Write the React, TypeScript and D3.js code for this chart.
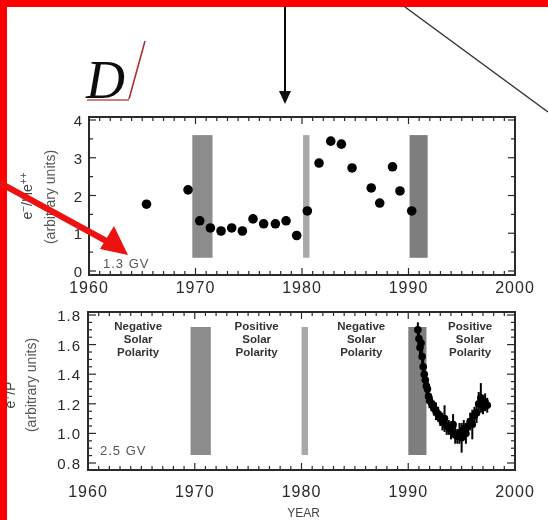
import React from 'react';
import * as d3 from 'd3';

// top panel: e-/He++ ratio, 1.3 GV
const topYears = [1965.4, 1969.3, 1970.4, 1971.4, 1972.4, 1973.4, 1974.4, 1975.4, 1976.4, 1977.5, 1978.5, 1979.5, 1980.5, 1981.6, 1982.7, 1983.7, 1984.7, 1986.5, 1987.3, 1988.5, 1989.2, 1990.3];
const topValues = [1.77, 2.15, 1.33, 1.14, 1.06, 1.14, 1.06, 1.38, 1.25, 1.25, 1.33, 0.94, 1.59, 2.86, 3.44, 3.36, 2.73, 2.2, 1.8, 2.76, 2.12, 1.59];

// bottom panel: e+/P ratio, 2.5 GV
const botYears = [1990.9, 1991.0, 1991.1, 1991.2, 1991.3, 1991.4, 1991.5, 1991.6, 1991.7, 1991.8, 1991.9, 1992.0, 1992.2, 1992.4, 1992.6, 1992.8, 1993.0, 1993.2, 1993.4, 1993.6, 1993.8, 1994.0, 1994.2, 1994.4, 1994.6, 1994.8, 1995.0, 1995.2, 1995.4, 1995.6, 1995.8, 1996.0, 1996.2, 1996.4, 1996.6, 1996.8, 1997.0, 1997.2, 1997.4];
const botValues = [1.7, 1.64, 1.58, 1.61, 1.52, 1.45, 1.4, 1.36, 1.32, 1.3, 1.25, 1.22, 1.2, 1.17, 1.15, 1.13, 1.1, 1.08, 1.1, 1.05, 1.04, 1.02, 1.06, 0.99, 0.98, 1.0, 0.97, 1.03, 1.0, 1.05, 1.08, 1.06, 1.12, 1.14, 1.2, 1.24, 1.18, 1.21, 1.19];
const botErrors = [0.05, 0.05, 0.05, 0.05, 0.05, 0.05, 0.05, 0.05, 0.05, 0.05, 0.05, 0.05, 0.05, 0.05, 0.06, 0.05, 0.05, 0.06, 0.09, 0.06, 0.05, 0.06, 0.07, 0.06, 0.05, 0.07, 0.1, 0.06, 0.07, 0.05, 0.06, 0.1, 0.06, 0.07, 0.08, 0.1, 0.05, 0.06, 0.05];

// solar max periods (shaded)
const bandStart = [1969.7, 1980.1, 1990.1];
const bandEnd = [1971.6, 1980.7, 1991.8];
const bandShade = ['#8c8c8c', '#a8a8a8', '#7e7e7e'];

const xTicks = [1960, 1970, 1980, 1990, 2000];
const topYTicks = [0, 1, 2, 3, 4];
const botYTicks = [0.8, 1.0, 1.2, 1.4, 1.6, 1.8];
const polarityLabels = ['Negative', 'Positive', 'Negative', 'Positive'];
const polarityYears = [1964.7, 1975.8, 1985.6, 1995.8];

const ink = '#2a2a2a';
const font = 'Liberation Sans, Arial, sans-serif';

export default function App() {
  const W = 548;
  const H = 520;

  const xTop = d3.scaleLinear().domain([1960, 2000]).range([89, 515]);
  const yTop = d3.scaleLinear().domain([0, 4]).range([271, 120]);
  const xBot = d3.scaleLinear().domain([1960, 2000]).range([88, 515]);
  const yBot = d3.scaleLinear().domain([0.8, 1.8]).range([463, 315]);

  const years = d3.range(1960, 2001);

  const frame = (x0: number, x1: number, y0: number, y1: number) => (
    <rect x={x0} y={y0} width={x1 - x0} height={y1 - y0} fill="none" stroke={ink} strokeWidth={2} />
  );

  return (
    <svg width={W} height={H} style={{ position: 'absolute', left: 0, top: 0, background: '#fff' }}>
      <defs>
        <filter id="scan">
          <feGaussianBlur stdDeviation="0.5" />
        </filter>
      </defs>

      <g filter="url(#scan)">
        {/* stray lines from the page */}
        <line x1={285} x2={285} y1={7} y2={95} stroke="#111" strokeWidth={2} />
        <path d="M279,91 L291,91 L285,104 Z" fill="#111" />
        <line x1={405} x2={548} y1={7} y2={112} stroke="#333" strokeWidth={1.5} />

        {/* panel letter */}
        <text x={86} y={98} fontFamily="Liberation Serif, Times New Roman, serif" fontStyle="italic" fontSize={54} fill="#111">D</text>

        {/* ===== top panel ===== */}
        {bandStart.map((s, i) => (
          <rect key={'tb' + i} x={xTop(s)} width={xTop(bandEnd[i]) - xTop(s)} y={yTop(3.6)} height={yTop(0.35) - yTop(3.6)} fill={bandShade[i]} />
        ))}
        {frame(89, 515, 117, 275)}
        {years.map(y => (
          <g key={'tt' + y}>
            <line x1={xTop(y)} x2={xTop(y)} y1={117} y2={y % 10 === 0 ? 124 : 121} stroke={ink} strokeWidth={1.2} />
            <line x1={xTop(y)} x2={xTop(y)} y1={275} y2={y % 10 === 0 ? 268 : 271} stroke={ink} strokeWidth={1.2} />
          </g>
        ))}
        {d3.range(0, 4.01, 0.5).map(v => (
          <g key={'ty' + v}>
            <line x1={89} x2={Number.isInteger(v) ? 96 : 93} y1={yTop(v)} y2={yTop(v)} stroke={ink} strokeWidth={1.2} />
            <line x1={515} x2={Number.isInteger(v) ? 508 : 511} y1={yTop(v)} y2={yTop(v)} stroke={ink} strokeWidth={1.2} />
          </g>
        ))}
        {topYTicks.map(v => (
          <text key={'tyl' + v} x={82} y={yTop(v) + 6} textAnchor="end" fontFamily={font} fontSize={15} fill={ink}>{v}</text>
        ))}
        {xTicks.map(v => (
          <text key={'txl' + v} x={xTop(v)} y={293} textAnchor="middle" fontFamily={font} fontSize={16} letterSpacing={1} fill={ink}>{v}</text>
        ))}
        {topYears.map((yr, i) => (
          <circle key={'tp' + i} cx={xTop(yr)} cy={yTop(topValues[i])} r={4.8} fill="#000" />
        ))}
        <text x={103} y={268} fontFamily={font} fontSize={13} letterSpacing={1} fill="#555">1.3  GV</text>
        <text transform="translate(32,196) rotate(-90)" textAnchor="middle" fontFamily={font} fontSize={14} fill="#444">
          e<tspan dy={-5} fontSize={10}>−</tspan><tspan dy={5}>/He</tspan><tspan dy={-5} fontSize={10}>++</tspan>
        </text>
        <text transform="translate(55,197) rotate(-90)" textAnchor="middle" fontFamily={font} fontSize={14} fill="#555">(arbitrary units)</text>

        {/* ===== bottom panel ===== */}
        {bandStart.map((s, i) => (
          <rect key={'bb' + i} x={xBot(s) - 1} width={xBot(bandEnd[i]) - xBot(s)} y={327} height={128} fill={bandShade[i]} />
        ))}
        {frame(88, 515, 312, 470)}
        {years.map(y => (
          <g key={'bt' + y}>
            <line x1={xBot(y)} x2={xBot(y)} y1={312} y2={y % 10 === 0 ? 319 : 316} stroke={ink} strokeWidth={1.2} />
            <line x1={xBot(y)} x2={xBot(y)} y1={470} y2={y % 10 === 0 ? 463 : 466} stroke={ink} strokeWidth={1.2} />
          </g>
        ))}
        {d3.range(0.8, 1.81, 0.05).map(v => {
          const major = Math.abs(v * 10 - Math.round(v * 10)) < 0.01 && Math.round(v * 10) % 2 === 0;
          return (
            <g key={'by' + v.toFixed(2)}>
              <line x1={88} x2={major ? 96 : 92} y1={yBot(v)} y2={yBot(v)} stroke={ink} strokeWidth={1.2} />
              <line x1={515} x2={major ? 507 : 511} y1={yBot(v)} y2={yBot(v)} stroke={ink} strokeWidth={1.2} />
            </g>
          );
        })}
        {botYTicks.map(v => (
          <text key={'byl' + v} x={81} y={yBot(v) + 6} textAnchor="end" fontFamily={font} fontSize={15} letterSpacing={1} fill={ink}>{v.toFixed(1)}</text>
        ))}
        {xTicks.map(v => (
          <text key={'bxl' + v} x={xBot(v)} y={497} textAnchor="middle" fontFamily={font} fontSize={16} letterSpacing={1} fill={ink}>{v}</text>
        ))}
        <text x={xBot(1980) + 2} y={517} textAnchor="middle" fontFamily={font} fontSize={12} fill="#444">YEAR</text>
        {polarityLabels.map((lab, i) => (
          <text key={'pl' + i} x={xBot(polarityYears[i])} y={330} textAnchor="middle" fontFamily={font} fontSize={11.5} fontWeight="bold" fill="#333">
            <tspan x={xBot(polarityYears[i])} dy={0}>{lab}</tspan>
            <tspan x={xBot(polarityYears[i])} dy={13}>Solar</tspan>
            <tspan x={xBot(polarityYears[i])} dy={13}>Polarity</tspan>
          </text>
        ))}
        {botYears.map((yr, i) => (
          <g key={'bp' + i}>
            <line x1={xBot(yr)} x2={xBot(yr)} y1={yBot(botValues[i] - botErrors[i])} y2={yBot(botValues[i] + botErrors[i])} stroke="#000" strokeWidth={2} />
            <circle cx={xBot(yr)} cy={yBot(botValues[i])} r={3.8} fill="#000" />
          </g>
        ))}
        <text x={100} y={455} fontFamily={font} fontSize={13} letterSpacing={1} fill="#555">2.5  GV</text>
        <text transform="translate(15,395) rotate(-90)" textAnchor="middle" fontFamily={font} fontSize={14} fill="#444">
          e<tspan dy={-5} fontSize={10}>+</tspan><tspan dy={5}>/P</tspan>
        </text>
        <text transform="translate(36,385) rotate(-90)" textAnchor="middle" fontFamily={font} fontSize={14} fill="#555">(arbitrary units)</text>
      </g>

      {/* red annotations */}
      <rect x={0} y={0} width={7} height={H} fill="#ff0000" />
      <rect x={0} y={0} width={W} height={7} fill="#ff0000" />
      <line x1={0} y1={183} x2={110} y2={243} stroke="#ee1111" strokeWidth={6} />
      <path d="M128,255 L100,249 L114,226 Z" fill="#ee1111" />
      <line x1={145} y1={41} x2={129} y2={99} stroke="#b03030" strokeWidth={1.6} />
      <line x1={87} y1={100} x2={129} y2={100} stroke="#b84848" strokeWidth={2} opacity={0.7} />
    </svg>
  );
}
